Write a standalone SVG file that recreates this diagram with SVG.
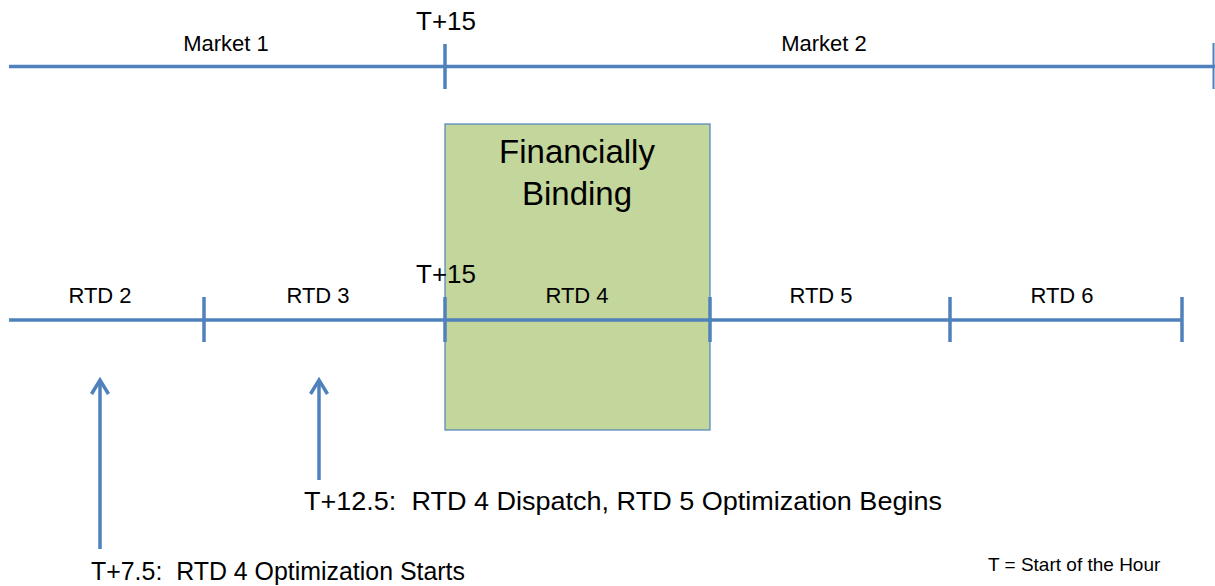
<svg xmlns="http://www.w3.org/2000/svg" width="1215" height="586" viewBox="0 0 1215 586">
<style>
.ln{stroke:#4F81BD;stroke-width:3.5;fill:none}
.tk{stroke:#4F81BD;stroke-width:3.5}
.ah{stroke:#4F81BD;stroke-width:3.5;fill:none;stroke-linejoin:miter}
.t{font-family:"Liberation Sans",Arial,sans-serif;fill:#000}
.s{font-size:22px}
.m{font-size:26px}
</style>
<rect width="1215" height="586" fill="#fff"/>
<g id="binding-box">
<rect x="445" y="124" width="265" height="306" fill="#C3D69B" stroke="#4F81BD" stroke-width="1.2"/>
<text class="t" x="577" y="163" font-size="33" text-anchor="middle">Financially</text>
<text class="t" x="577" y="205" font-size="33" text-anchor="middle">Binding</text>
</g>
<g id="connectors">
<line class="ln" x1="9" y1="66.5" x2="1215" y2="66.5"/>
<line class="tk" x1="445" y1="44" x2="445" y2="89"/>
<line class="tk" x1="1213.5" y1="43" x2="1213.5" y2="89" style="stroke-width:2"/>
<line class="ln" x1="9" y1="320" x2="1182" y2="320"/>
<line class="tk" x1="204" y1="297" x2="204" y2="342"/>
<line class="tk" x1="445" y1="297" x2="445" y2="342"/>
<line class="tk" x1="710" y1="297" x2="710" y2="342"/>
<line class="tk" x1="950" y1="297" x2="950" y2="342"/>
<line class="tk" x1="1182" y1="297" x2="1182" y2="342"/>
<line class="ln" x1="100" y1="549" x2="100" y2="380"/>
<path class="ah" d="M91.5,394 L100,380 L108.5,394"/>
<line class="ln" x1="319" y1="480" x2="319" y2="380"/>
<path class="ah" d="M310.5,394 L319,380 L327.5,394"/>
</g>
<g id="labels">
<text class="t m" x="446" y="30" text-anchor="middle">T+15</text>
<text class="t s" x="226" y="51" text-anchor="middle">Market 1</text>
<text class="t s" x="824" y="51" text-anchor="middle">Market 2</text>
<text class="t m" x="446" y="283" text-anchor="middle">T+15</text>
<text class="t s" x="100" y="303" text-anchor="middle">RTD 2</text>
<text class="t s" x="318" y="303" text-anchor="middle">RTD 3</text>
<text class="t s" x="577" y="303" text-anchor="middle">RTD 4</text>
<text class="t s" x="821" y="303" text-anchor="middle">RTD 5</text>
<text class="t s" x="1062" y="303" text-anchor="middle">RTD 6</text>
<text class="t m" x="304" y="510" xml:space="preserve" textLength="638" lengthAdjust="spacingAndGlyphs">T+12.5:  RTD 4 Dispatch, RTD 5 Optimization Begins</text>
<text class="t m" x="91" y="580" xml:space="preserve" textLength="374" lengthAdjust="spacingAndGlyphs">T+7.5:  RTD 4 Optimization Starts</text>
<text class="t" x="988" y="571" font-size="19">T = Start of the Hour</text>
</g>
</svg>
